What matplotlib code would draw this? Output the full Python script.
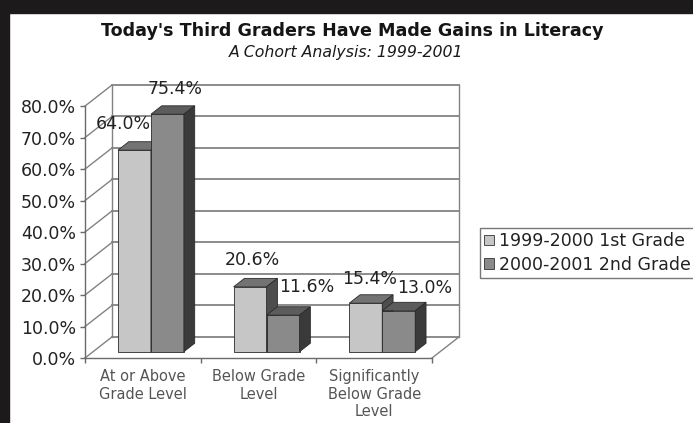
import matplotlib
matplotlib.use('Agg')
import matplotlib.pyplot as plt
from matplotlib.patches import Polygon, Rectangle, Patch

plt.rcParams['font.family'] = ['DejaVu Sans']

### Data
categories = ['At or Above\nGrade Level', 'Below Grade\nLevel',
              'Significantly\nBelow Grade\nLevel']
series_labels = ['1999-2000 1st Grade', '2000-2001 2nd Grade']
grade1 = [64.0, 20.6, 15.4]
grade2 = [75.4, 11.6, 13.0]
y_ticks = [0, 10, 20, 30, 40, 50, 60, 70, 80]

title = "Today's Third Graders Have Made Gains in Literacy"
subtitle = 'A Cohort Analysis: 1999-2001'

### Style
DX = 0.2334       # depth of the 3d box, in category units
DY = 6.69         # depth of the 3d box, in percent units
BAR_W = 0.285
F0, F1 = 0.30, 0.70   # bars sit in the middle of the depth
GRID = '#828282'
# (front, top, side)
light = ('#c6c6c6', '#737373', '#4e4e4e')
dark = ('#8a8a8a', '#5c5c5c', '#3a3a3a')
# data label nudges in points, excel puts them a bit off
label_nudge = [[(-16, 13), (-2, 12)],
               [(-6, 13), (9, 14)],
               [(-5, 11), (11, 10)]]


def draw_bar(ax, x0, value, colors):
    """Oblique 3d bar: front face, top and right side."""
    front, top, side = colors
    bx = x0 + F0 * DX
    by = F0 * DY
    ddx = (F1 - F0) * DX
    ddy = (F1 - F0) * DY
    kw = dict(edgecolor='#2a2a2a', linewidth=0.6, clip_on=False, zorder=3)
    ax.add_patch(Rectangle((bx, by), BAR_W, value, facecolor=front, **kw))
    ax.add_patch(Polygon([(bx, by + value), (bx + BAR_W, by + value),
                          (bx + BAR_W + ddx, by + value + ddy),
                          (bx + ddx, by + value + ddy)], facecolor=top, **kw))
    ax.add_patch(Polygon([(bx + BAR_W, by), (bx + BAR_W, by + value),
                          (bx + BAR_W + ddx, by + value + ddy),
                          (bx + BAR_W + ddx, by + ddy)], facecolor=side, **kw))
    # centre of the top back edge, used for the label
    return bx + BAR_W / 2 + ddx, by + value + ddy


fig = plt.figure(figsize=(6.93, 4.23), dpi=100)
fig.patch.set_facecolor('white')

# scan borders
fig.patches.append(Rectangle((0, 1 - 13 / 423), 1, 13 / 423,
                             transform=fig.transFigure, color='#1c1a1a', zorder=0))
fig.patches.append(Rectangle((0, 0), 9 / 693, 1, transform=fig.transFigure,
                             color='#1c1a1a', zorder=0))

ax = fig.add_axes([85 / 693, 65 / 423, 374 / 693, 273 / 423])
ax.set_xlim(-0.5, 2.5 + DX)
ax.set_ylim(0, y_ticks[-1] + DY)
ax.set_facecolor('none')

n = len(categories)
top = y_ticks[-1]
left = -0.5
right = n - 0.5

# back wall gridlines and side wall diagonals
for v in y_ticks:
    ax.plot([left + DX, right + DX], [v + DY, v + DY], color=GRID, lw=1.3,
            clip_on=False, zorder=1)
    ax.plot([left, left + DX], [v, v + DY], color=GRID, lw=1.0,
            clip_on=False, zorder=1)
ax.plot([left + DX, left + DX], [DY, top + DY], color=GRID, lw=1.0,
        clip_on=False, zorder=1)
ax.plot([right + DX, right + DX], [DY, top + DY], color=GRID, lw=1.0,
        clip_on=False, zorder=1)
ax.plot([right, right + DX], [0, DY], color=GRID, lw=1.0, clip_on=False,
        zorder=1)

# bars
for i in range(n):
    pair_left = i - BAR_W
    for j, (vals, cols) in enumerate([(grade1, light), (grade2, dark)]):
        lx, ly = draw_bar(ax, pair_left + j * BAR_W, vals[i], cols)
        ax.annotate('%.1f%%' % vals[i], (lx, ly), xytext=label_nudge[i][j],
                    textcoords='offset points', ha='center', va='center',
                    fontsize=12.5, color='#222222', zorder=5,
                    annotation_clip=False)

# axes
for s in ['top', 'right']:
    ax.spines[s].set_visible(False)
ax.spines['left'].set_bounds(0, top)
ax.spines['bottom'].set_bounds(left, right)
for s in ['left', 'bottom']:
    ax.spines[s].set_color('#6a6a6a')
    ax.spines[s].set_linewidth(1.0)

ax.set_yticks(y_ticks)
ax.set_yticklabels(['%.1f%%' % v for v in y_ticks])
ax.tick_params(axis='y', length=3.5, width=1.0, color='#6a6a6a', pad=3,
               labelsize=12.5, labelcolor='#222222')

ax.set_xticks(range(n))
ax.set_xticklabels(categories, color='#555555', fontsize=10.5)
ax.set_xticks([left + k for k in range(n + 1)], minor=True)
ax.tick_params(axis='x', which='major', length=0, pad=8)
ax.tick_params(axis='x', which='minor', length=3.5, width=1.0,
               color='#6a6a6a')

# titles
fig.text(352 / 693, 1 - 31 / 423, title, ha='center', va='center',
         fontsize=12.6, fontweight='bold', color='#151515')
fig.text(346 / 693, 1 - 52 / 423, subtitle, ha='center', va='center',
         fontsize=11.3, style='italic', color='#1a1a1a')

# legend
handles = [Patch(facecolor=light[0], edgecolor='#333333', linewidth=0.6),
           Patch(facecolor=dark[0], edgecolor='#333333', linewidth=0.6)]
leg = fig.legend(handles, series_labels, loc='upper left',
                 bbox_to_anchor=(480 / 693, 1 - 228 / 423),
                 bbox_transform=fig.transFigure, frameon=True,
                 fancybox=False, borderaxespad=0, borderpad=0.25,
                 handlelength=0.55, handleheight=0.55, handletextpad=0.3,
                 labelspacing=0.3, fontsize=12.5)
leg.get_frame().set_edgecolor('#555555')
leg.get_frame().set_linewidth(1.0)
for t in leg.get_texts():
    t.set_color('#222222')

fig.savefig('out.png', dpi=100)
